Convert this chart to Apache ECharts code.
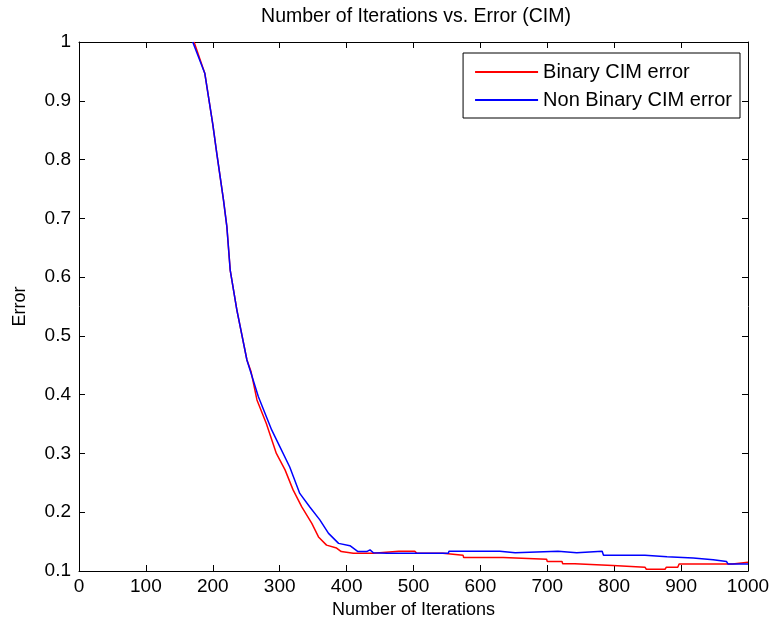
<!DOCTYPE html>
<html>
<head>
<meta charset="utf-8">
<script src="https://cdn.jsdelivr.net/npm/echarts@6/dist/echarts.min.js"></script>
<style>
html,body{margin:0;padding:0;background:#fff;}
#chart{width:770px;height:624px;}
</style>
</head>
<body>
<div id="chart"></div>
<script>
// Data
var binaryX = [172,188,200,206,216,221,226,236,251,257,266,280,295,308,320,333,348,358,370,385,392,410,440,478,502,505,544,545,574,575,634,636,699,700,722,723,741,742,798,800,846,848,876,878,895,897,977,979,1000];
var binaryY = [1.0,0.947,0.86,0.81,0.731,0.686,0.612,0.544,0.459,0.44,0.391,0.351,0.300,0.272,0.238,0.209,0.181,0.158,0.144,0.139,0.133,0.130,0.130,0.1335,0.1335,0.130,0.130,0.127,0.127,0.123,0.123,0.121,0.120,0.116,0.116,0.1125,0.1125,0.1095,0.1095,0.1065,0.1065,0.103,0.103,0.1065,0.1065,0.112,0.112,0.115,0.115];
var nonBinaryX = [170,188,200,206,216,221,226,236,251,268,288,300,315,330,345,360,373,388,405,417,430,435,440,460,552,553,629,630,652,653,716,717,744,745,782,784,846,848,879,881,918,920,948,950,968,970,1000];
var nonBinaryY = [1.0,0.947,0.86,0.81,0.731,0.686,0.612,0.544,0.459,0.397,0.340,0.312,0.277,0.232,0.209,0.187,0.164,0.147,0.143,0.133,0.133,0.136,0.131,0.130,0.130,0.1335,0.1335,0.131,0.131,0.1335,0.1335,0.131,0.131,0.1335,0.1335,0.127,0.127,0.1244,0.1244,0.122,0.122,0.119,0.119,0.116,0.116,0.112,0.112];
var seriesNames = ['Binary CIM error', 'Non Binary CIM error'];
var xTicks = [0,100,200,300,400,500,600,700,800,900,1000];
var yTicks = [0.1,0.2,0.3,0.4,0.5,0.6,0.7,0.8,0.9,1];

function pairs(xs, ys){ return xs.map(function(x,i){ return [x, ys[i]]; }); }

var FONT = '"Liberation Sans", Arial, sans-serif';
var chart = echarts.init(document.getElementById('chart'), null, {renderer:'canvas'});
var axisCommon = {
  axisLine:{show:true, onZero:false, lineStyle:{color:'#000', width:1}},
  axisTick:{show:true, inside:true, length:6, lineStyle:{color:'#000', width:1}},
  splitLine:{show:false}
};
chart.setOption({
  animation:false,
  backgroundColor:'#fff',
  title:{text:'Number of Iterations vs. Error (CIM)', left:411, textAlign:'center', top:2,
    textStyle:{fontFamily:FONT, fontSize:19.5, fontWeight:'normal', color:'#000'}},
  grid:{left:79, right:22, top:42, bottom:53, show:false, containLabel:false, outerBoundsMode:'none'},
  legend:{
    orient:'vertical', right:30, top:53,
    data:seriesNames,
    icon:'rect', itemWidth:63, itemHeight:2, itemGap:8,
    padding:[9,8,8,12],
    borderColor:'#000', borderWidth:1, backgroundColor:'#fff',
    textStyle:{fontFamily:FONT, fontSize:20, lineHeight:20, color:'#000'}
  },
  xAxis:[
    Object.assign({type:'value', min:0, max:1000, interval:100, position:'bottom',
      name:'Number of Iterations', nameLocation:'middle', nameGap:26,
      nameTextStyle:{fontFamily:FONT, fontSize:18, color:'#000'},
      axisLabel:{fontFamily:FONT, fontSize:19, color:'#000', margin:6,
        formatter:function(v){ return xTicks.indexOf(v)>=0 ? String(v) : ''; }}}, axisCommon),
    Object.assign({type:'value', min:0, max:1000, interval:100, position:'top',
      axisLabel:{show:false}}, axisCommon)
  ],
  yAxis:[
    Object.assign({type:'value', min:0.1, max:1, interval:0.1, position:'left',
      name:'Error', nameLocation:'middle', nameGap:50, nameRotate:90,
      nameTextStyle:{fontFamily:FONT, fontSize:18, color:'#000'},
      axisLabel:{fontFamily:FONT, fontSize:19, color:'#000', margin:8,
        formatter:function(v){ var r=Math.round(v*10)/10; return r===1?'1':r.toFixed(1); }}}, axisCommon),
    Object.assign({type:'value', min:0.1, max:1, interval:0.1, position:'right',
      axisLabel:{show:false}}, axisCommon)
  ],
  series:[
    {name:seriesNames[0], type:'line', data:pairs(binaryX, binaryY), showSymbol:false, symbol:'none',
      lineStyle:{color:'#ff0000', width:1.5}, itemStyle:{color:'#ff0000'}, z:2},
    {name:seriesNames[1], type:'line', data:pairs(nonBinaryX, nonBinaryY), showSymbol:false, symbol:'none',
      lineStyle:{color:'#0000ff', width:1.5}, itemStyle:{color:'#0000ff'}, z:3}
  ]
});
</script>
</body>
</html>
